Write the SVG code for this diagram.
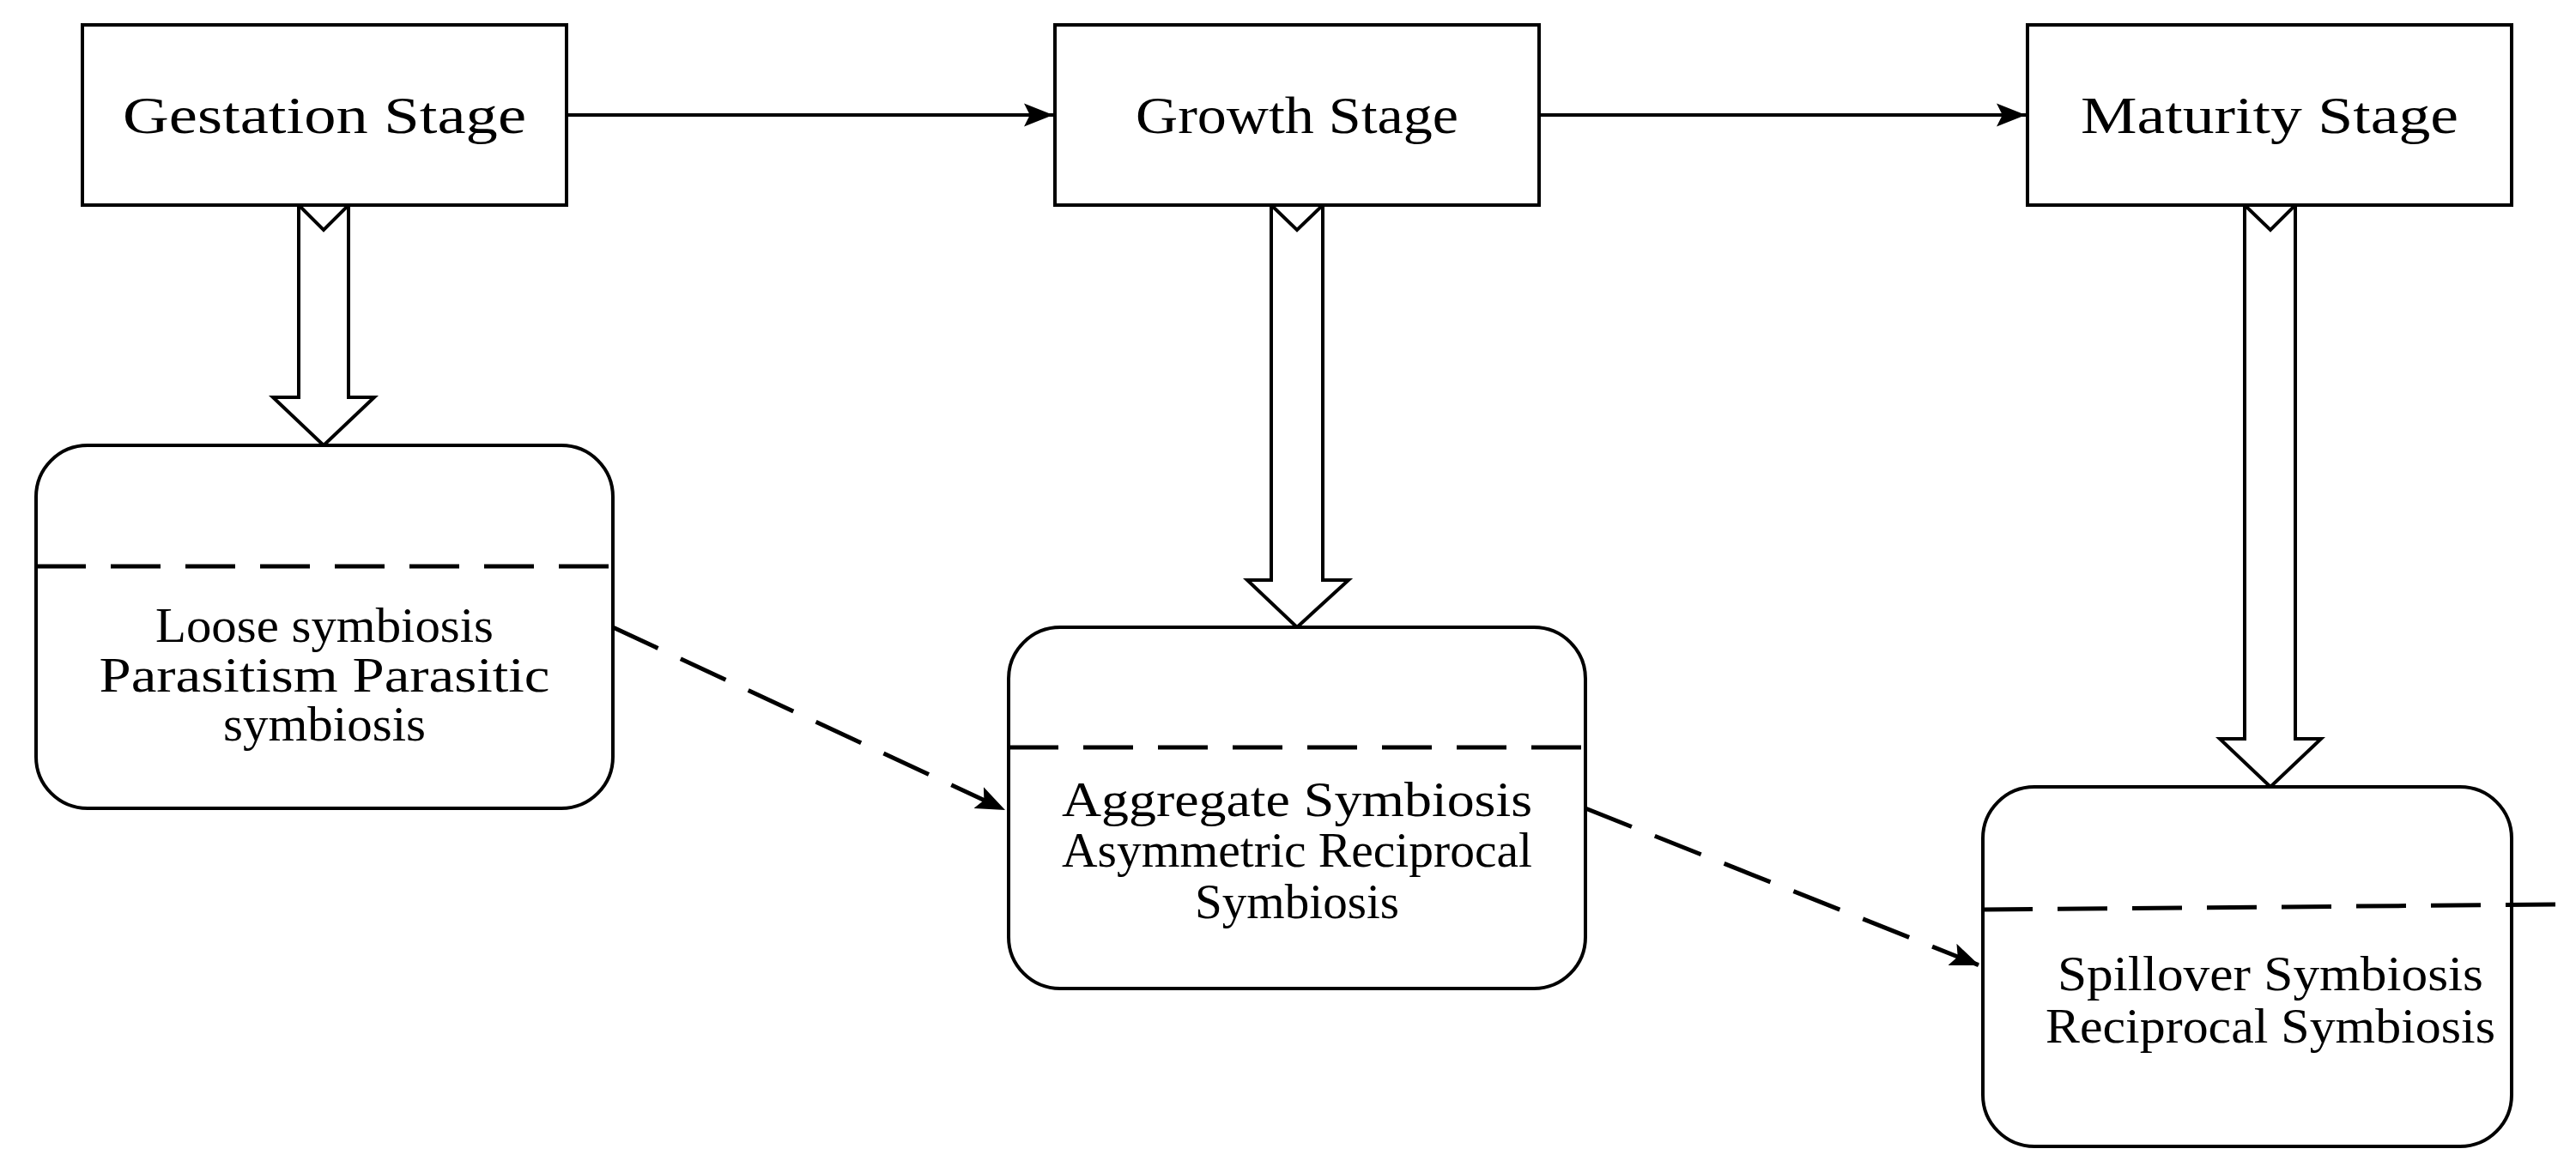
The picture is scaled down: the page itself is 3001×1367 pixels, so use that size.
<svg xmlns="http://www.w3.org/2000/svg" width="3001" height="1367" viewBox="0 0 3001 1367">
<style>
.b{fill:#fff;stroke:#000;stroke-width:4}
.d{fill:none;stroke:#000;stroke-width:5;stroke-dasharray:58 29}
.l{fill:none;stroke:#000;stroke-width:4}
text{font-family:"Liberation Serif","DejaVu Serif",serif;font-size:56px;text-anchor:middle;fill:#000;dominant-baseline:central}
.t{font-size:62px}
</style>
<defs>
<marker id="m" viewBox="0 0 10 10" refX="10" refY="5" markerWidth="34" markerHeight="34" orient="auto" markerUnits="userSpaceOnUse"><path d="M0,1 L10,5 L0,9 L2,5 Z"/></marker>
</defs>
<g id="connectors">
<line class="l" x1="660" y1="134" x2="1227" y2="134" marker-end="url(#m)"/>
<line class="l" x1="1793" y1="134" x2="2360" y2="134" marker-end="url(#m)"/>
<line class="d" x1="714" y1="731" x2="1171" y2="944" marker-end="url(#m)"/>
<line class="d" x1="1847" y1="942" x2="2306" y2="1125" marker-end="url(#m)"/>
<path class="b" d="M348,239 L377,268 L406,239 L406,463 L436,463 L377,519 L318,463 L348,463 Z"/>
<path class="b" d="M1481,239 L1511,268 L1541,239 L1541,676 L1571,676 L1511,731 L1453,676 L1481,676 Z"/>
<path class="b" d="M2615,239 L2645,268 L2674,239 L2674,861 L2704,861 L2645,917 L2586,861 L2615,861 Z"/>
</g>
<g id="gestation"><rect class="b" x="96" y="29" width="564" height="210"/><text class="t" x="378" y="134" textLength="470" lengthAdjust="spacingAndGlyphs">Gestation Stage</text></g>
<g id="growth"><rect class="b" x="1229" y="29" width="564" height="210"/><text class="t" x="1511" y="134" textLength="376" lengthAdjust="spacingAndGlyphs">Growth Stage</text></g>
<g id="maturity"><rect class="b" x="2362" y="29" width="564" height="210"/><text class="t" x="2644" y="134" textLength="440" lengthAdjust="spacingAndGlyphs">Maturity Stage</text></g>
<g id="box1"><rect class="b" x="42" y="519" width="672" height="423" rx="60"/><line class="d" x1="42" y1="660" x2="714" y2="660"/>
<text x="378" y="729" textLength="394" lengthAdjust="spacingAndGlyphs">Loose symbiosis</text><text x="378" y="787" textLength="525" lengthAdjust="spacingAndGlyphs">Parasitism Parasitic</text><text x="378" y="844" textLength="236" lengthAdjust="spacingAndGlyphs">symbiosis</text></g>
<g id="box2"><rect class="b" x="1175" y="731" width="672" height="421" rx="60"/><line class="d" x1="1175" y1="871" x2="1847" y2="871"/>
<text x="1511" y="932" textLength="548" lengthAdjust="spacingAndGlyphs">Aggregate Symbiosis</text><text x="1511" y="991" textLength="548" lengthAdjust="spacingAndGlyphs">Asymmetric Reciprocal</text><text x="1511" y="1051" textLength="238" lengthAdjust="spacingAndGlyphs">Symbiosis</text></g>
<g id="box3"><rect class="b" x="2310" y="917" width="616" height="419" rx="60"/><line class="d" x1="2310" y1="1060" x2="2982" y2="1054"/>
<text x="2645" y="1135" textLength="496" lengthAdjust="spacingAndGlyphs">Spillover Symbiosis</text><text x="2645" y="1196" textLength="524" lengthAdjust="spacingAndGlyphs">Reciprocal Symbiosis</text></g>
</svg>
